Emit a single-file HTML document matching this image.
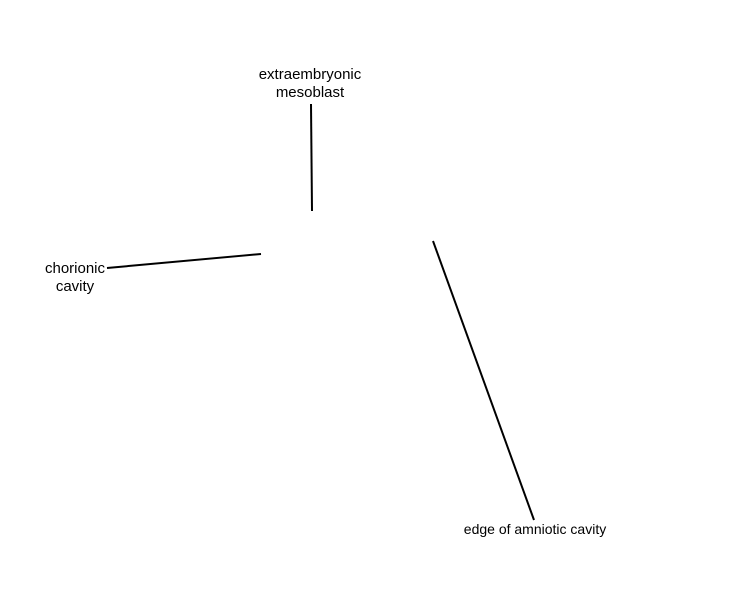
<!DOCTYPE html>
<html><head><style>
body{margin:0;background:#fff;}
.t{position:absolute;font-family:"Liberation Sans",sans-serif;font-size:15px;color:#000;text-align:center;line-height:18px;}
</style></head><body>
<div style="position:relative;width:750px;height:600px;overflow:hidden">
<svg width="750" height="600" style="position:absolute;left:0;top:0">
<line x1="311" y1="104" x2="312" y2="211" stroke="#000" stroke-width="2"/>
<line x1="107" y1="268" x2="261" y2="254" stroke="#000" stroke-width="2"/>
<line x1="433" y1="241" x2="534" y2="520" stroke="#000" stroke-width="2"/>
</svg>
<div class="t" style="left:240px;top:66px;width:140px">extraembryonic<br>mesoblast</div>
<div class="t" style="left:35px;top:260px;width:80px">chorionic<br>cavity</div>
<div class="t" style="left:455px;top:520px;width:160px;font-size:14px">edge of amniotic cavity</div>
</div>
</body></html>
